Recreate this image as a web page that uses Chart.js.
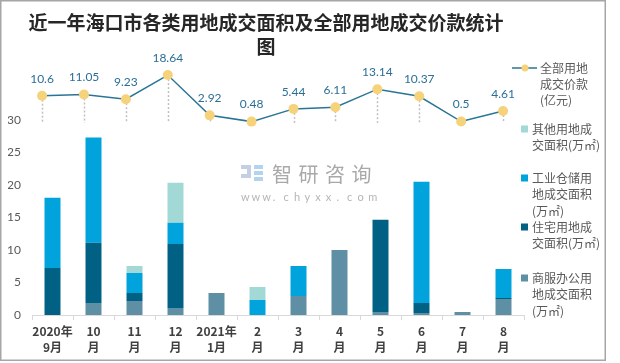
<!DOCTYPE html>
<html>
<head>
<meta charset="utf-8">
<script src="https://cdn.jsdelivr.net/npm/chart.js@4.4.1/dist/chart.umd.min.js"></script>
<style>
  html, body { margin: 0; padding: 0; background: #fff; }
  #wrap { width: 620px; height: 363px; }
</style>
</head>
<body>
<div id="wrap"><canvas id="chart" width="620" height="363"></canvas></div>
<script>
// data
const months = [
  ["2020年", "9月"], ["10", "月"], ["11", "月"], ["12", "月"],
  ["2021年", "1月"], ["2", "月"], ["3", "月"], ["4", "月"],
  ["5", "月"], ["6", "月"], ["7", "月"], ["8", "月"]
];
const commercialArea = [0, 1.85, 2.16, 1.08, 3.39, 0, 2.93, 10.01, 0.46, 0.31, 0.46, 2.47];
const residentialArea = [7.24, 9.25, 1.23, 9.86, 0, 0, 0, 0, 14.18, 1.54, 0, 0.15];
const industrialArea = [10.8, 16.2, 3.08, 3.24, 0, 2.31, 4.62, 0, 0, 18.64, 0, 4.47];
const otherArea = [0, 0, 1.08, 6.16, 0, 2.0, 0, 0, 0, 0, 0, 0];
const totalPrice = [10.6, 11.05, 9.23, 18.64, 2.92, 0.48, 5.44, 6.11, 13.14, 10.37, 0.5, 4.61];
const yTicks = [0, 5, 10, 15, 20, 25, 30];

const titleLines = ["近一年海口市各类用地成交面积及全部用地成交价款统计", "图"];

const C_OTHER = "#A2D8D5";
const C_IND = "#00A3DC";
const C_RES = "#006185";
const C_COM = "#5E8FA5";
const C_LINE = "#2A7596";
const C_DOT = "#F6D27A";
const NUM_FONT = "Lato, 'Noto Sans CJK SC', sans-serif";
const CJK_FONT = "'Noto Sans CJK SC', sans-serif";

const legendItems = [
  { type: "line", lines: ["全部用地", "成交价款", "(亿元)"], y: 68 },
  { type: "box", color: C_OTHER, lines: ["其他用地成", "交面积(万㎡)"], y: 129 },
  { type: "box", color: C_IND, lines: ["工业仓储用", "地成交面积", "(万㎡)"], y: 178 },
  { type: "box", color: C_RES, lines: ["住宅用地成", "交面积(万㎡)"], y: 227 },
  { type: "box", color: C_COM, lines: ["商服办公用", "地成交面积", "(万㎡)"], y: 278 }
];

const decor = {
  id: "decor",
  beforeDatasetsDraw(chart) {
    const ctx = chart.ctx;
    ctx.save();
    // watermark
    ctx.fillStyle = "#C3CFE2";
    ctx.fillRect(241, 165, 10, 4);
    ctx.fillRect(247, 169, 4, 6);
    ctx.fillRect(241, 174, 10, 4);
    ctx.fillStyle = "#B4D3EC";
    ctx.fillRect(254, 165, 9, 4);
    ctx.fillRect(254, 171, 9, 4);
    ctx.fillRect(254, 177, 9, 4);
    ctx.fillStyle = "#A9A9A9";
    ctx.font = "20px " + CJK_FONT;
    ctx.textBaseline = "middle";
    ctx.textAlign = "left";
    "智研咨询".split("").forEach((ch, i) => ctx.fillText(ch, 272 + i * 26.5, 174));
    ctx.fillStyle = "#B5B5B5";
    ctx.font = "11px " + NUM_FONT;
    "www.chyxx.com".split("").forEach((ch, i) => ctx.fillText(ch, 241 + i * 10.6, 197));
    // drop lines from the price points
    const meta = chart.getDatasetMeta(4);
    const base = chart.scales.y2.getPixelForValue(0);
    ctx.strokeStyle = "#BFBFBF";
    ctx.lineWidth = 1.5;
    ctx.setLineDash([2, 2]);
    meta.data.forEach(p => {
      ctx.beginPath();
      ctx.moveTo(Math.round(p.x) + 0.5, p.y);
      ctx.lineTo(Math.round(p.x) + 0.5, base);
      ctx.stroke();
    });
    ctx.restore();
  },
  afterDraw(chart) {
    const ctx = chart.ctx;
    ctx.save();
    // price labels
    const meta = chart.getDatasetMeta(4);
    ctx.fillStyle = "#2B6F97";
    ctx.font = "12px " + NUM_FONT;
    ctx.textAlign = "center";
    ctx.textBaseline = "middle";
    meta.data.forEach((p, i) => ctx.fillText(String(totalPrice[i]), p.x, p.y - 17));
    // legend
    ctx.textAlign = "left";
    ctx.font = "12px " + CJK_FONT;
    legendItems.forEach(item => {
      if (item.type === "line") {
        ctx.strokeStyle = C_LINE;
        ctx.lineWidth = 1.5;
        ctx.beginPath();
        ctx.moveTo(512, item.y);
        ctx.lineTo(537, item.y);
        ctx.stroke();
        ctx.fillStyle = C_DOT;
        ctx.beginPath();
        ctx.arc(525, item.y, 3.5, 0, Math.PI * 2);
        ctx.fill();
        ctx.fillStyle = "#595959";
        item.lines.forEach((t, k) => ctx.fillText(t, 540, item.y + k * 16));
      } else {
        ctx.fillStyle = item.color;
        ctx.fillRect(521, item.y - 3.5, 7, 7);
        ctx.fillStyle = "#595959";
        item.lines.forEach((t, k) => ctx.fillText(t, 532, item.y + k * 16.5));
      }
    });
    // frame
    ctx.strokeStyle = "#A6A6A6";
    ctx.lineWidth = 1.5;
    ctx.strokeRect(0.75, 0.75, 604.5, 359.5);
    ctx.restore();
  }
};

const barStyle = {
  barPercentage: 0.39, categoryPercentage: 1, grouped: false,
  borderWidth: 0, order: 2, stack: "area", xAxisID: "x", yAxisID: "y"
};

new Chart(document.getElementById("chart"), {
  type: "bar",
  data: {
    labels: months,
    datasets: [
      { label: "商服办公用地成交面积(万㎡)", data: commercialArea, backgroundColor: C_COM, ...barStyle },
      { label: "住宅用地成交面积(万㎡)", data: residentialArea, backgroundColor: C_RES, ...barStyle },
      { label: "工业仓储用地成交面积(万㎡)", data: industrialArea, backgroundColor: C_IND, ...barStyle },
      { label: "其他用地成交面积(万㎡)", data: otherArea, backgroundColor: C_OTHER, ...barStyle },
      {
        type: "line",
        label: "全部用地成交价款(亿元)",
        data: totalPrice.map((v, i) => ({ x: i, y: v })),
        xAxisID: "x2",
        yAxisID: "y2",
        borderColor: C_LINE,
        borderWidth: 1.5,
        pointRadius: 5,
        pointBackgroundColor: C_DOT,
        pointBorderWidth: 0,
        tension: 0,
        order: 0
      }
    ]
  },
  options: {
    responsive: false,
    animation: false,
    layout: { padding: { left: 8, right: 96, bottom: 0, top: 0 } },
    plugins: {
      legend: { display: false },
      tooltip: { enabled: false },
      title: {
        display: true,
        text: titleLines,
        color: "#262626",
        font: { family: CJK_FONT, size: 19, weight: "bold", lineHeight: 1.3 },
        padding: { top: 10, bottom: 4 }
      }
    },
    scales: {
      x: {
        stacked: true,
        offset: true,
        grid: { display: true, drawOnChartArea: false, drawTicks: true, tickLength: 5, color: "#D9D9D9", offset: true },
        border: { display: true, color: "#D9D9D9", width: 1 },
        afterFit: axis => { axis.height = 48; },
        ticks: {
          color: "#404040",
          maxRotation: 0,
          autoSkip: false,
          padding: 3,
          font: { family: CJK_FONT, size: 12, weight: "bold", lineHeight: 1.33 }
        }
      },
      x2: {
        type: "linear",
        display: false,
        offset: false,
        min: -0.24,
        max: 11.5
      },
      y: {
        stacked: true,
        min: 0,
        max: 38.7,
        grid: { display: false, drawTicks: false },
        border: { display: false },
        afterBuildTicks: axis => { axis.ticks = yTicks.map(v => ({ value: v })); },
        afterFit: axis => { axis.width = 24; },
        ticks: {
          color: "#595959",
          padding: 11,
          font: { family: NUM_FONT, size: 12 }
        }
      },
      y2: {
        display: false,
        min: -75,
        max: 23.2
      }
    }
  },
  plugins: [decor]
});
</script>
</body>
</html>
